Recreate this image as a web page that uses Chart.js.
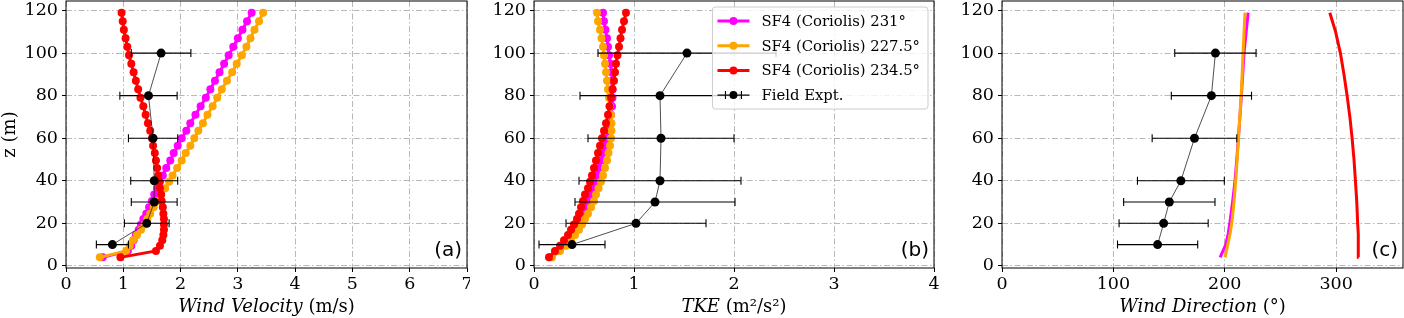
<!DOCTYPE html>
<html>
<head>
<meta charset="utf-8">
<script src="https://cdn.jsdelivr.net/npm/chart.js@4.4.0/dist/chart.umd.min.js"></script>
<style>
    html, body { margin: 0; padding: 0; background: #fff; }
    #wrap { position: relative; width: 1404px; height: 318px; overflow: hidden; }
    canvas { position: absolute; top: 0; }
</style>
</head>
<body>
<div id="wrap">
    <canvas id="velChart" width="470" height="318" style="left:0px"></canvas>
    <canvas id="tkeChart" width="470" height="318" style="left:470px"></canvas>
    <canvas id="dirChart" width="464" height="318" style="left:940px"></canvas>
</div>
<script>
// ============================================
// DATA
// ============================================

const seriesNames = ['SF4 (Coriolis) 231°', 'SF4 (Coriolis) 227.5°', 'SF4 (Coriolis) 234.5°', 'Field Expt.'];
const seriesColors = ['#ff00ff', '#ffa500', '#ff0000', '#000000'];

// simulated profiles (heights in m)
const zSim = [4, 7, 9.5, 12, 14.5, 17, 19.5, 22, 24.5, 27.5, 30.5, 33.5, 36.5, 39.5, 42.5, 46, 49.5, 53, 56.5, 60,
              63.5, 67, 71, 75, 79, 83, 87, 91, 95, 99, 103, 107, 111, 115, 119];

const velMag = [0.64, 1.08, 1.14, 1.18, 1.22, 1.27, 1.31, 1.35, 1.40, 1.45, 1.50, 1.54, 1.59, 1.64, 1.69, 1.75, 1.82, 1.88, 1.95, 2.02,
                2.10, 2.17, 2.26, 2.35, 2.44, 2.52, 2.60, 2.68, 2.76, 2.84, 2.92, 3.00, 3.08, 3.16, 3.24];
const velOra = [0.59, 1.05, 1.11, 1.17, 1.24, 1.31, 1.37, 1.42, 1.47, 1.53, 1.59, 1.66, 1.73, 1.80, 1.86, 1.94, 2.02, 2.09, 2.17, 2.24,
                2.31, 2.39, 2.47, 2.56, 2.64, 2.72, 2.81, 2.90, 2.98, 3.07, 3.15, 3.22, 3.29, 3.37, 3.44];
const velRed = [0.95, 1.57, 1.64, 1.68, 1.70, 1.71, 1.71, 1.71, 1.70, 1.69, 1.67, 1.66, 1.64, 1.63, 1.61, 1.59, 1.57, 1.55, 1.52, 1.50,
                1.47, 1.43, 1.39, 1.35, 1.30, 1.26, 1.22, 1.18, 1.14, 1.10, 1.07, 1.04, 1.01, 0.99, 0.97];

const tkeMag = [0.16, 0.22, 0.27, 0.31, 0.35, 0.39, 0.42, 0.45, 0.48, 0.51, 0.54, 0.56, 0.59, 0.61, 0.63, 0.65, 0.67, 0.69, 0.71, 0.73,
                0.745, 0.76, 0.77, 0.78, 0.785, 0.785, 0.78, 0.775, 0.765, 0.75, 0.74, 0.73, 0.715, 0.70, 0.69];
const tkeOra = [0.18, 0.26, 0.32, 0.37, 0.41, 0.45, 0.48, 0.51, 0.54, 0.57, 0.60, 0.62, 0.645, 0.67, 0.69, 0.71, 0.73, 0.745, 0.76, 0.77,
                0.775, 0.775, 0.77, 0.76, 0.75, 0.74, 0.73, 0.72, 0.71, 0.70, 0.69, 0.675, 0.66, 0.64, 0.63];
const tkeRed = [0.15, 0.21, 0.26, 0.30, 0.34, 0.37, 0.40, 0.43, 0.45, 0.47, 0.49, 0.51, 0.54, 0.56, 0.58, 0.60, 0.62, 0.64, 0.66, 0.68,
                0.70, 0.72, 0.74, 0.755, 0.77, 0.785, 0.80, 0.81, 0.82, 0.835, 0.85, 0.865, 0.88, 0.90, 0.92];

const zDir = [4, 10, 15, 20, 30, 40, 50, 60, 70, 80, 90, 100, 110, 119];
const dirMag = [195.8, 200.9, 203.0, 204.5, 207.0, 209.2, 210.8, 212.2, 213.6, 214.9, 216.1, 217.3, 219.2, 221.0];
const dirOra = [200.3, 202.7, 204.7, 206.3, 208.3, 209.8, 211.1, 212.3, 213.5, 214.7, 215.6, 216.4, 217.3, 218.2];
const dirRed = [320.3, 320.0, 319.7, 319.3, 318.5, 317.3, 316.0, 314.3, 312.3, 309.8, 307.0, 303.8, 299.5, 294.3];

// field experiment
const zField = [10, 20, 30, 40, 60, 80, 100];
const velField = [0.81, 1.41, 1.54, 1.54, 1.52, 1.44, 1.66];
const velErr = [0.28, 0.39, 0.40, 0.41, 0.43, 0.50, 0.52];
const tkeField = [0.38, 1.02, 1.21, 1.26, 1.27, 1.26, 1.53];
const tkeErr = [0.33, 0.70, 0.80, 0.81, 0.73, 0.80, 0.89];
const dirField = [139.7, 145.1, 150.2, 160.6, 172.8, 188.0, 191.6];
const dirErr = [36, 40, 41, 39, 38, 36, 36.5];

// ticks
const zTicks = [0, 20, 40, 60, 80, 100, 120];
const velTicks = [0, 1, 2, 3, 4, 5, 6, 7];
const tkeTicks = [0, 1, 2, 3, 4];
const dirTicks = [0, 100, 200, 300];

// ============================================
// HELPERS
// ============================================

const serif = "'DejaVu Serif', serif";
const gridColor = '#b0b0b0';

function pts(xs, zs) {
    return zs.map((z, i) => ({ x: xs[i], y: z }));
}

function simLine(k, xs, zs, radius) {
    return {
        label: seriesNames[k],
        order: 3 - k,
        showLine: true,
        data: pts(xs, zs),
        borderColor: seriesColors[k],
        backgroundColor: seriesColors[k],
        borderWidth: 3,
        pointRadius: radius,
        pointBorderWidth: 0,
        pointBackgroundColor: seriesColors[k]
    };
}

function fieldLine(xs, errs) {
    return {
        label: seriesNames[3],
        order: 0,
        showLine: true,
        data: pts(xs, zField),
        xErr: errs,
        borderColor: '#222',
        borderWidth: 0.8,
        pointRadius: 4.5,
        pointBorderWidth: 0,
        pointBackgroundColor: '#000'
    };
}

// error bars, drawn just before the field markers
const errorBars = {
    id: 'errorBars',
    beforeDatasetDraw(chart, args) {
        const ds = chart.data.datasets[args.index];
        if (!ds.xErr) return;
        const { ctx, scales: { x, y } } = chart;
        ctx.save();
        ctx.strokeStyle = '#000';
        ctx.lineWidth = 1.1;
        ds.data.forEach((p, i) => {
            const py = y.getPixelForValue(p.y);
            const x1 = x.getPixelForValue(p.x - ds.xErr[i]);
            const x2 = x.getPixelForValue(p.x + ds.xErr[i]);
            ctx.beginPath();
            ctx.moveTo(x1, py); ctx.lineTo(x2, py);
            ctx.moveTo(x1, py - 4); ctx.lineTo(x1, py + 4);
            ctx.moveTo(x2, py - 4); ctx.lineTo(x2, py + 4);
            ctx.stroke();
        });
        ctx.restore();
    }
};

// frame, axis titles and panel tag
const decor = {
    id: 'decor',
    afterDraw(chart, args, opts) {
        const { ctx, chartArea: a } = chart;
        ctx.save();
        ctx.strokeStyle = '#000';
        ctx.lineWidth = 1;
        ctx.strokeRect(a.left, a.top, a.right - a.left, a.bottom - a.top);

        // x title, mixed italic / upright
        ctx.fillStyle = '#000';
        ctx.textBaseline = 'alphabetic';
        ctx.textAlign = 'left';
        const parts = opts.parts;
        let total = 0;
        parts.forEach(p => { ctx.font = p[1] + ' 18px ' + serif; total += ctx.measureText(p[0]).width; });
        let tx = (a.left + a.right) / 2 - total / 2;
        parts.forEach(p => {
            ctx.font = p[1] + ' 18px ' + serif;
            ctx.fillText(p[0], tx, 312);
            tx += ctx.measureText(p[0]).width;
        });

        if (opts.yTitle) {
            ctx.save();
            ctx.translate(15, (a.top + a.bottom) / 2);
            ctx.rotate(-Math.PI / 2);
            ctx.textAlign = 'center';
            ctx.font = '18px ' + serif;
            ctx.fillText(opts.yTitle, 0, 0);
            ctx.restore();
        }

        ctx.font = "20px 'DejaVu Sans', sans-serif";
        ctx.textAlign = 'right';
        ctx.fillText(opts.tag, a.right - 5, a.bottom - 12);
        ctx.restore();
    }
};

// boxed legend inside panel (b)
const legendBox = {
    id: 'legendBox',
    afterDatasetsDraw(chart) {
        const { ctx, chartArea: a } = chart;
        ctx.save();
        ctx.font = '14.8px ' + serif;
        const textW = Math.max(...seriesNames.map(s => ctx.measureText(s).width));
        const w = 5 + 32 + 12 + textW + 8;
        const h = 102;
        const bx = a.right - 6 - w, by = a.top + 6;
        ctx.beginPath();
        ctx.roundRect(bx, by, w, h, 3);
        ctx.fillStyle = 'rgba(255,255,255,0.8)';
        ctx.fill();
        ctx.strokeStyle = '#cccccc';
        ctx.lineWidth = 1;
        ctx.stroke();

        seriesNames.forEach((name, k) => {
            const ry = by + 14 + k * 24.7;
            const hx1 = bx + 5, hx2 = bx + 37, hc = (hx1 + hx2) / 2;
            ctx.strokeStyle = seriesColors[k];
            ctx.fillStyle = seriesColors[k];
            if (k < 3) {
                ctx.lineWidth = 3;
                ctx.beginPath(); ctx.moveTo(hx1, ry); ctx.lineTo(hx2, ry); ctx.stroke();
            } else {
                ctx.lineWidth = 1.1;
                ctx.beginPath();
                ctx.moveTo(hx1, ry); ctx.lineTo(hx2, ry);
                ctx.moveTo(hc - 8, ry - 4); ctx.lineTo(hc - 8, ry + 4);
                ctx.moveTo(hc + 8, ry - 4); ctx.lineTo(hc + 8, ry + 4);
                ctx.stroke();
            }
            ctx.beginPath(); ctx.arc(hc, ry, 4, 0, Math.PI * 2); ctx.fill();
            ctx.fillStyle = '#000';
            ctx.textBaseline = 'middle';
            ctx.fillText(name, bx + 49, ry + 1);
        });
        ctx.restore();
    }
};

function panelOptions(p) {
    const tickFont = { family: serif, size: 17.5 };
    return {
        responsive: false,
        animation: false,
        layout: { autoPadding: false, padding: { left: 0, right: p.padRight, top: 1, bottom: 0 } },
        plugins: {
            legend: { display: false },
            tooltip: { enabled: false },
            decor: { parts: p.parts, tag: p.tag, yTitle: p.yTitle || '' }
        },
        scales: {
            x: {
                type: 'linear',
                min: p.xMin,
                max: p.xMax,
                afterFit: s => { s.height = 50; s.paddingLeft = 0; s.paddingRight = 0; },
                afterBuildTicks: s => { s.ticks = p.xTicks.map(v => ({ value: v })); },
                grid: { color: gridColor, lineWidth: 0.9, tickColor: '#000', tickLength: 4, tickWidth: 1 },
                border: { display: false, dash: [6, 2.5, 1.5, 2.5] },
                ticks: { color: '#000', font: tickFont, padding: 2, maxRotation: 0 }
            },
            y: {
                type: 'linear',
                min: -1,
                max: 124.5,
                afterFit: s => { s.width = p.left; s.paddingTop = 0; s.paddingBottom = 0; },
                afterBuildTicks: s => { s.ticks = zTicks.map(v => ({ value: v })); },
                grid: { color: gridColor, lineWidth: 0.9, tickColor: '#000', tickLength: 4, tickWidth: 1 },
                border: { display: false, dash: [6, 2.5, 1.5, 2.5] },
                ticks: { color: '#000', font: tickFont, padding: 4 }
            }
        }
    };
}

// ============================================
// (a) WIND VELOCITY
// ============================================

new Chart(document.getElementById('velChart'), {
    type: 'scatter',
    data: {
        datasets: [
            fieldLine(velField, velErr),
            simLine(0, velMag, zSim, 4),
            simLine(1, velOra, zSim, 4),
            simLine(2, velRed, zSim, 4)
        ]
    },
    options: panelOptions({
        left: 66, padRight: 3, xMin: 0, xMax: 7, xTicks: velTicks,
        parts: [['Wind Velocity', 'italic'], [' (m/s)', 'normal']], tag: '(a)', yTitle: 'z (m)'
    }),
    plugins: [errorBars, decor]
});

// ============================================
// (b) TKE
// ============================================

new Chart(document.getElementById('tkeChart'), {
    type: 'scatter',
    data: {
        datasets: [
            fieldLine(tkeField, tkeErr),
            simLine(0, tkeMag, zSim, 4),
            simLine(1, tkeOra, zSim, 4),
            simLine(2, tkeRed, zSim, 4)
        ]
    },
    options: panelOptions({
        left: 64, padRight: 6, xMin: 0, xMax: 4, xTicks: tkeTicks,
        parts: [['TKE', 'italic'], [' (m²/s²)', 'normal']], tag: '(b)'
    }),
    plugins: [errorBars, legendBox, decor]
});

// ============================================
// (c) WIND DIRECTION
// ============================================

new Chart(document.getElementById('dirChart'), {
    type: 'scatter',
    data: {
        datasets: [
            fieldLine(dirField, dirErr),
            simLine(0, dirMag, zDir, 0),
            simLine(1, dirOra, zDir, 0),
            simLine(2, dirRed, zDir, 0)
        ]
    },
    options: panelOptions({
        left: 62, padRight: 1, xMin: 0, xMax: 360, xTicks: dirTicks,
        parts: [['Wind Direction', 'italic'], [' (°)', 'normal']], tag: '(c)'
    }),
    plugins: [errorBars, decor]
});
</script>
</body>
</html>
